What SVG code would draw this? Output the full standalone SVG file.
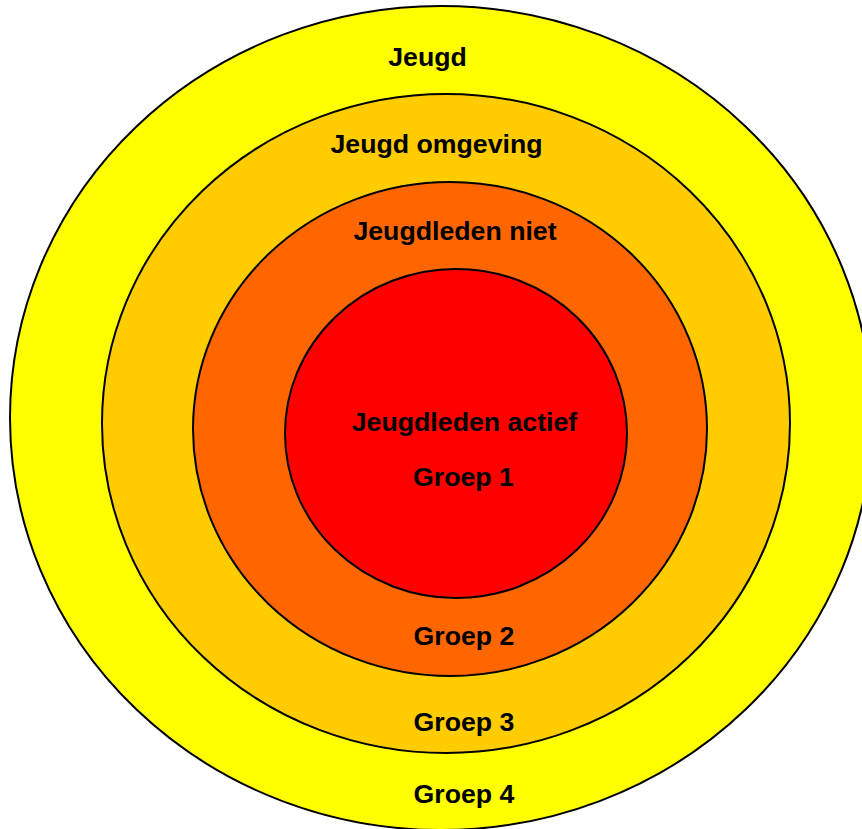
<svg xmlns="http://www.w3.org/2000/svg" width="862" height="829" viewBox="0 0 862 829">
<style>
.ring{stroke:#000;stroke-width:2}
.lbl{font-family:"Liberation Sans",Arial,sans-serif;font-weight:bold;font-size:26.7px;fill:#000;text-anchor:middle}
</style>
<rect width="862" height="829" fill="#fff"/>
<g id="groep4">
<ellipse class="ring" cx="441" cy="418" rx="431" ry="412" fill="#FFFF00"/>
<text class="lbl" x="427.5" y="66">Jeugd</text>
<text class="lbl" x="464" y="803">Groep 4</text>
</g>
<g id="groep3">
<ellipse class="ring" cx="446" cy="423.5" rx="344" ry="329.5" fill="#FFCC00"/>
<text class="lbl" x="436.5" y="153">Jeugd omgeving</text>
<text class="lbl" x="464" y="731">Groep 3</text>
</g>
<g id="groep2">
<ellipse class="ring" cx="450" cy="429" rx="257" ry="247" fill="#FF6600"/>
<text class="lbl" x="455" y="240">Jeugdleden niet</text>
<text class="lbl" x="464" y="645">Groep 2</text>
</g>
<g id="groep1">
<ellipse class="ring" cx="456" cy="433.5" rx="171" ry="164.5" fill="#FF0000"/>
<text class="lbl" x="464.5" y="431">Jeugdleden actief</text>
<text class="lbl" x="463.5" y="486">Groep 1</text>
</g>
<g id="connectors"/>
</svg>
